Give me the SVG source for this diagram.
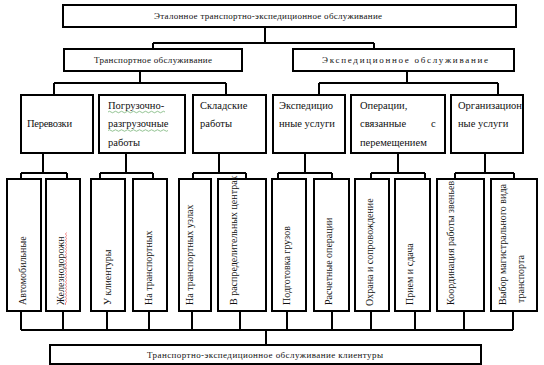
<svg xmlns="http://www.w3.org/2000/svg" width="544" height="365" viewBox="0 0 544 365">
<style>
.b{fill:#fff;stroke:#000;stroke-width:2}
.c{fill:none;stroke:#000;stroke-width:2}
text{font-family:'Liberation Serif','Times New Roman','DejaVu Serif',serif;fill:#111}
.s{font-size:9px}
.m{font-size:10.5px}
.v{font-size:10px}
</style>
<rect width="544" height="365" fill="#fff"/>
<g id="connectors" class="c">
<path d="M265,27V43M153,43H374M153,43V49M374,43V49"/>
<path d="M140,71V83M54,83H226M54,83V95M226,83V95"/>
<path d="M407,71V83M319,83H498M319,83V95M498,83V95"/>
<path d="M43,153V173M21,173H67M21,173V179M67,173V179"/>
<path d="M126,153V173M100,173H153M100,173V179M153,173V179"/>
<path d="M219,153V173M193,173H246M193,173V179M246,173V179"/>
<path d="M305,153V173M278,173H332M278,173V179M332,173V179"/>
<path d="M398,153V173M371,173H425M371,173V179M425,173V179"/>
<path d="M485,153V173M455,173H514M455,173V179M514,173V179"/>
<path d="M21,311V330M63,311V330M107,311V330M149,311V330M192,311V330M240,311V330M287,311V330M332,311V330M371,311V330M415,311V330M464,311V330M513,311V330M21,330H513M266,330V345"/>
</g>
<g id="n-top"><rect class="b" x="63" y="5" width="453" height="22"/><text class="s" x="268" y="19" text-anchor="middle" font-family="Liberation Serif" textLength="228">Эталонное транспортно-экспедиционное обслуживание</text></g>
<g id="n-transport"><rect class="b" x="64" y="49" width="178" height="22"/><text class="s" x="153" y="63" text-anchor="middle" font-family="Liberation Serif" textLength="118">Транспортное обслуживание</text></g>
<g id="n-exped"><rect class="b" x="293" y="49" width="221" height="22"/><text class="s" x="405" y="63" text-anchor="middle" font-family="Liberation Serif" textLength="166">Экспедиционное обслуживание</text></g>

<g id="n-perevozki"><rect class="b" x="21" y="95" width="72" height="58"/><text class="m" x="27" y="126.5" font-family="Liberation Serif" textLength="45">Перевозки</text></g>
<g id="n-pogr"><rect class="b" x="99" y="95" width="86" height="58"/><text class="m" x="108" y="108.5" font-family="Liberation Serif">Погрузочно-</text><text class="m" x="108" y="127" font-family="Liberation Serif">разгрузочные</text><text class="m" x="108" y="145.5" font-family="Liberation Serif">работы</text>
<path d="M108,112q1.5,-1.5 3,0t3,0t3,0t3,0t3,0t3,0t3,0t3,0t3,0t3,0t3,0t3,0t3,0t3,0t3,0t3,0t3,0t3,0t3,0M108,130.5q1.5,-1.5 3,0t3,0t3,0t3,0t3,0t3,0t3,0t3,0t3,0t3,0t3,0t3,0t3,0t3,0t3,0t3,0t3,0t3,0t3,0t3,0" fill="none" stroke="#6a6" stroke-width="0.7"/></g>
<g id="n-sklad"><rect class="b" x="193" y="95" width="73" height="58"/><text class="m" x="200" y="108.5" font-family="Liberation Serif">Складские</text><text class="m" x="200" y="127" font-family="Liberation Serif">работы</text></g>
<g id="n-expusl"><rect class="b" x="273" y="95" width="72" height="58"/><text class="m" x="279" y="108.5" font-family="Liberation Serif">Экспедицио</text><text class="m" x="279" y="127" font-family="Liberation Serif">нные услуги</text></g>
<g id="n-oper"><rect class="b" x="351" y="95" width="94" height="58"/><text class="m" x="360" y="108.5" font-family="Liberation Serif">Операции,</text><text class="m" x="360" y="127" font-family="Liberation Serif">связанные</text><text class="m" x="431" y="127" font-family="Liberation Serif">с</text><text class="m" x="360" y="145.5" font-family="Liberation Serif">перемещением</text></g>
<g id="n-org"><rect class="b" x="451" y="95" width="72" height="58"/><text class="m" x="458" y="108.5" font-family="Liberation Serif">Организацион</text><text class="m" x="458" y="127" font-family="Liberation Serif">ные услуги</text></g>

<g id="n-avto"><rect class="b" x="7" y="179" width="34" height="132"/><text class="v" font-family="Liberation Serif" transform="translate(25.5,305) rotate(-90)">Автомобильные</text></g>
<g id="n-zhd"><rect class="b" x="46" y="179" width="34" height="132"/><text class="v" font-family="Liberation Serif" transform="translate(63.5,305) rotate(-90)">Железнодорожн</text><path d="M65.5,305v-2l1,-1.5l-1,-1.5l1,-1.5l-1,-1.5l1,-1.5l-1,-1.5l1,-1.5l-1,-1.5l1,-1.5l-1,-1.5l1,-1.5l-1,-1.5l1,-1.5l-1,-1.5l1,-1.5l-1,-1.5l1,-1.5l-1,-1.5l1,-1.5l-1,-1.5l1,-1.5l-1,-1.5l1,-1.5l-1,-1.5l1,-1.5l-1,-1.5l1,-1.5l-1,-1.5l1,-1.5l-1,-1.5l1,-1.5l-1,-1.5l1,-1.5l-1,-1.5l1,-1.5l-1,-1.5l1,-1.5l-1,-1.5l1,-1.5l-1,-1.5l1,-1.5l-1,-1.5l1,-1.5l-1,-1.5l1,-1.5l-1,-1.5l1,-1.5" fill="none" stroke="#e55" stroke-width="0.7"/></g>
<g id="n-ukl"><rect class="b" x="91" y="179" width="34" height="132"/><text class="v" font-family="Liberation Serif" transform="translate(110.5,305) rotate(-90)">У клиентуры</text></g>
<g id="n-natr"><rect class="b" x="133" y="179" width="34" height="132"/><text class="v" font-family="Liberation Serif" transform="translate(151.5,305) rotate(-90)">На транспортных</text></g>
<g id="n-uzly"><rect class="b" x="179" y="179" width="32" height="132"/><text class="v" font-family="Liberation Serif" transform="translate(192.5,305) rotate(-90)">На транспортных узлах</text></g>
<g id="n-raspr"><rect class="b" x="218" y="179" width="48" height="132"/><text class="v" font-family="Liberation Serif" transform="translate(236.5,305) rotate(-90)">В распределительных центрах</text></g>
<g id="n-podg"><rect class="b" x="272" y="179" width="34" height="132"/><text class="v" font-family="Liberation Serif" transform="translate(289.5,305) rotate(-90)">Подготовка грузов</text></g>
<g id="n-rasch"><rect class="b" x="314" y="179" width="35" height="132"/><text class="v" font-family="Liberation Serif" transform="translate(331.5,305) rotate(-90)">Расчетные операции</text></g>
<g id="n-ohrana"><rect class="b" x="355" y="179" width="34" height="132"/><text class="v" font-family="Liberation Serif" transform="translate(372.5,306) rotate(-90)">Охрана и сопровождение</text></g>
<g id="n-priem"><rect class="b" x="395" y="179" width="35" height="132"/><text class="v" font-family="Liberation Serif" transform="translate(412.5,305) rotate(-90)">Прием и сдача</text></g>
<g id="n-koord"><rect class="b" x="437" y="179" width="47" height="132"/><text class="v" font-family="Liberation Serif" transform="translate(453.5,305) rotate(-90)">Координация работы звеньев</text></g>
<g id="n-vybor"><rect class="b" x="491" y="179" width="46" height="132"/><text class="v" font-family="Liberation Serif" transform="translate(505.5,305) rotate(-90)" textLength="121">Выбор магистрального вида</text><text class="v" font-family="Liberation Serif" transform="translate(523.5,303) rotate(-90)">транспорта</text></g>

<g id="n-bottom"><rect class="b" x="50" y="345" width="431" height="19"/><text class="s" x="265" y="357.5" text-anchor="middle" font-family="Liberation Serif" textLength="236">Транспортно-экспедиционное обслуживание клиентуры</text></g>
</svg>
